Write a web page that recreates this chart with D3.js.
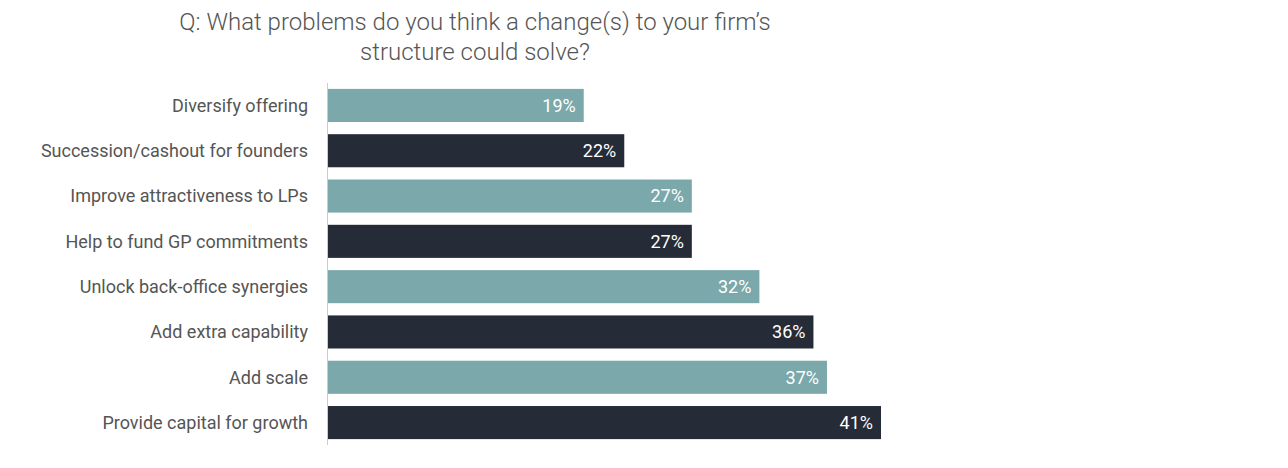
<!DOCTYPE html>
<html><head><meta charset="utf-8">
<script src="https://cdn.jsdelivr.net/npm/d3@7"></script>
<style>body{margin:0;background:#fff}</style>
</head><body>
<svg id="chart" width="1288" height="468"></svg>
<script>
// data, top to bottom
const categories = ["Diversify offering","Succession/cashout for founders","Improve attractiveness to LPs","Help to fund GP commitments","Unlock back-office synergies","Add extra capability","Add scale","Provide capital for growth"];
const values = [19,22,27,27,32,36,37,41];
const barColors = ["#7ba8aa","#252b37"];
const titleLines = ["Q: What problems do you think a change(s) to your firm\u2019s","structure could solve?"];

const svg = d3.select("#chart");
const font = "Roboto, 'Open Sans', sans-serif";

let x = d3.scaleLinear().domain([0,41]).range([327,881]);
let y = d3.scaleBand().domain(categories).range([83,445]).paddingInner(0.27).paddingOuter(0.13);

svg.selectAll(".title").data(titleLines).enter().append("text")
  .attr("x",475).attr("y",(d,i)=>30+i*30).attr("text-anchor","middle")
  .attr("font-family",font).attr("font-size",24).attr("font-weight",300).attr("fill","#555")
  .text(d=>d);

svg.selectAll(".bar").data(values).enter().append("rect")
  .attr("x",x(0)).attr("y",(d,i)=>y(categories[i]))
  .attr("width",d=>x(d)-x(0)).attr("height",y.bandwidth())
  .attr("fill",(d,i)=>barColors[i%2]);

svg.selectAll(".val").data(values).enter().append("text")
  .attr("x",d=>x(d)-8).attr("y",(d,i)=>y(categories[i])+y.bandwidth()/2)
  .attr("dy","0.35em").attr("text-anchor","end")
  .attr("font-family",font).attr("font-size",18).attr("fill","#fff")
  .text(d=>d+"%");

svg.selectAll(".cat").data(categories).enter().append("text")
  .attr("x",308).attr("y",d=>y(d)+y.bandwidth()/2)
  .attr("dy","0.35em").attr("text-anchor","end")
  .attr("font-family",font).attr("font-size",18).attr("fill","#555")
  .text(d=>d);

// vertical axis line
svg.append("line").attr("x1",327.5).attr("x2",327.5).attr("y1",83).attr("y2",445)
  .attr("stroke","#ccc").attr("stroke-width",1);
</script>
</body></html>
